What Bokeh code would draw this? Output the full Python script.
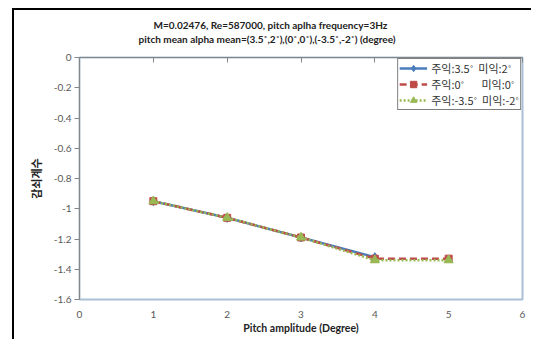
from bokeh.plotting import figure
from bokeh.models import (Range1d, LinearAxis, Title, Legend, LegendItem, FixedTicker,
                          CustomJSTickFormatter)
from bokeh.embed import file_html
from bokeh.resources import INLINE

# ---- data ----
x_main = [1, 2, 3, 4]
y_main = [-0.95, -1.06, -1.19, -1.32]
x_zero = [1, 2, 3, 4, 5]
y_zero = [-0.95, -1.06, -1.19, -1.33, -1.33]
x_neg = [1, 2, 3, 4, 5]
y_neg = [-0.95, -1.06, -1.19, -1.34, -1.34]
series_labels = ["주익:3.5˚  미익:2˚", "주익:0˚       미익:0˚", "주익:-3.5˚  미익:-2˚"]
x_ticks = [0, 1, 2, 3, 4, 5, 6]
y_ticks = [0, -0.2, -0.4, -0.6, -0.8, -1, -1.2, -1.4, -1.6]
y_tick_labels = {0: "0", -0.2: "-0.2", -0.4: "-0.4", -0.6: "-0.6", -0.8: "-0.8",
                 -1: "-1", -1.2: "-1.2", -1.4: "-1.4", -1.6: "-1.6"}
title_line1 = "M=0.02476, Re=587000, pitch aplha frequency=3Hz"
title_line2 = "pitch mean alpha  mean=(3.5˚,2˚),(0˚,0˚),(-3.5˚,-2˚)  (degree)"
x_label = "Pitch amplitude (Degree)"
y_label = "감쇠계수"

p = figure(width=519, height=331, x_range=Range1d(0, 6), y_range=Range1d(-1.6, 0),
           output_backend="svg", toolbar_location=None,
           min_border_left=65, min_border_right=11, min_border_top=47, min_border_bottom=42,
           title=None)
p.styles = {"margin-left": "12px", "margin-top": "8px",
            "border-left": "2px solid #000", "border-top": "2px solid #000"}
p.background_fill_color = "white"
p.border_fill_color = "white"
p.outline_line_color = "#a9c0d6"
p.outline_line_width = 2
p.grid.visible = False

tick_color = "#595959"
ax = p.xaxis[0]
ax.ticker = FixedTicker(ticks=x_ticks)
ax.axis_line_color = None
ax.major_tick_line_color = None
ax.minor_tick_line_color = None
ax.major_label_standoff = 5
ax.major_label_text_font = "Lato"
ax.major_label_text_font_size = "10px"
ax.major_label_text_color = tick_color
ax.axis_label = x_label
ax.axis_label_text_font = "Lato"
ax.axis_label_text_font_size = "10.5px"
ax.axis_label_text_font_style = "bold"
ax.axis_label_text_color = "#222222"
ax.axis_label_standoff = 1

ay = p.yaxis[0]
ay.ticker = FixedTicker(ticks=y_ticks)
ay.major_label_overrides = y_tick_labels
ay.axis_line_color = "#868686"
ay.major_tick_line_color = "#868686"
ay.major_tick_out = 5
ay.major_tick_in = 0
ay.minor_tick_line_color = None
ay.major_label_standoff = 3
ay.major_label_text_font = "Lato"
ay.major_label_text_font_size = "10px"
ay.major_label_text_color = tick_color
ay.axis_label = y_label
ay.axis_label_text_font = "Noto Sans CJK KR"
ay.axis_label_text_font_size = "11px"
ay.axis_label_text_font_style = "bold"
ay.axis_label_text_color = "#222222"
ay.axis_label_standoff = 7

top_axis = LinearAxis(ticker=FixedTicker(ticks=x_ticks), axis_line_color="#868686",
                      major_tick_line_color="#868686", major_tick_in=5, major_tick_out=0,
                      minor_tick_line_color=None,
                      formatter=CustomJSTickFormatter(code="return ''"),
                      major_label_text_font_size="1px", major_label_standoff=0)
p.add_layout(top_axis, "above")

t2 = Title(text=title_line2, align="left", offset=59, text_font="Lato", text_font_size="10px",
           text_font_style="bold", text_color="#222222", standoff=26)
t1 = Title(text=title_line1, align="left", offset=74, text_font="Lato", text_font_size="10px",
           text_font_style="bold", text_color="#222222", standoff=-26)
p.add_layout(t2, "above")
p.add_layout(t1, "above")

blue = "#4a7ebb"
red = "#be4b48"
green = "#98b954"

l1 = p.line(x_main, y_main, line_color=blue, line_width=2.5)
m1 = p.scatter(x_main, y_main, marker="diamond", size=9, fill_color=blue, line_color=blue)
l2 = p.line(x_zero, y_zero, line_color=red, line_width=2.5, line_dash="7 4")
m2 = p.scatter(x_zero, y_zero, marker="square", size=7, fill_color=red, line_color=red)
l3 = p.line(x_neg, y_neg, line_color=green, line_width=2.5, line_dash="2 2")
m3 = p.scatter(x_neg, y_neg, marker="triangle", size=9, fill_color=green, line_color=green)

legend = Legend(items=[LegendItem(label=series_labels[0], renderers=[l1, m1]),
                       LegendItem(label=series_labels[1], renderers=[l2, m2]),
                       LegendItem(label=series_labels[2], renderers=[l3, m3])],
                location="top_right", margin=1, padding=1, spacing=0,
                label_text_font="Noto Sans CJK KR", label_text_font_size="11px",
                label_text_color="#333333", label_height=16, glyph_height=16, glyph_width=28,
                label_standoff=4, border_line_color="black", border_line_width=1,
                background_fill_color="white", background_fill_alpha=1)
p.add_layout(legend)

open("out.html", "w").write(file_html(p, INLINE))
